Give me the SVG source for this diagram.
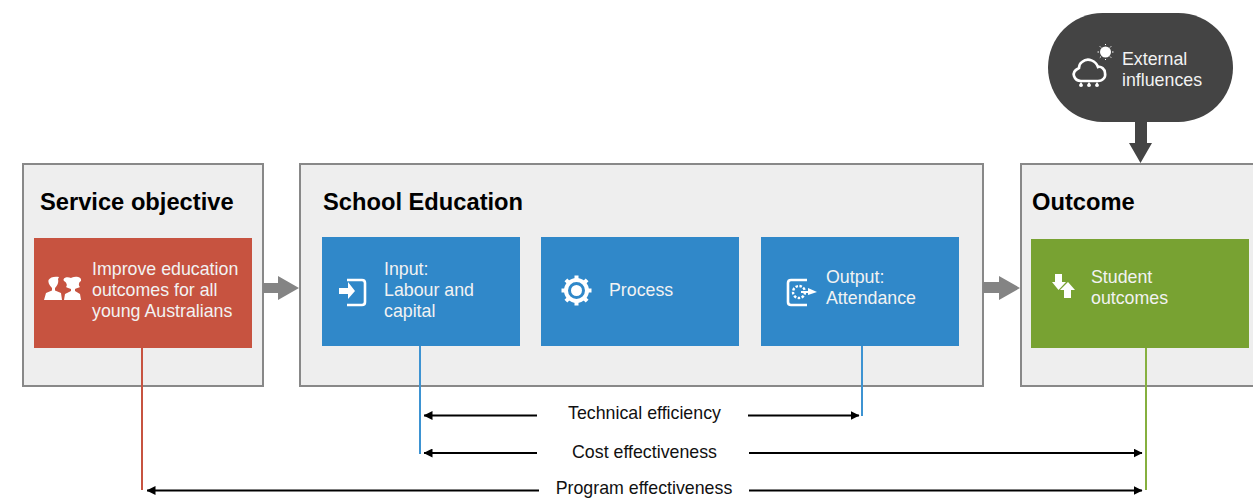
<svg xmlns="http://www.w3.org/2000/svg" width="1253" height="504" viewBox="0 0 1253 504">
<style>
text{font-family:"Liberation Sans",Arial,sans-serif}
.panel{fill:#eeeeee;stroke:#888888;stroke-width:2}
.title{font-size:23.7px;font-weight:700;fill:#000}
.t{font-size:17.8px;fill:#f2f2f2}
.lab{font-size:17.8px;fill:#111;text-anchor:middle}
.dim{stroke:#000;stroke-width:2;fill:none;marker-end:url(#ah)}
.w{fill:#fff}
.wl{fill:none;stroke:#fff;stroke-width:2.600}
</style>
<defs>
<marker id="ah" viewBox="0 0 9 9" refX="8.500" refY="4.500" markerWidth="9" markerHeight="9" markerUnits="userSpaceOnUse" orient="auto"><path d="M0 0L9 4.500L0 9Z" fill="#000"/></marker>
</defs>
<g id="service-objective">
<rect class="panel" x="23" y="164" width="240" height="222"/>
<text class="title" x="40" y="210">Service objective</text>
<rect x="34" y="238" width="218" height="110" fill="#c75340"/>
<path class="w" d="M44 300L46 293L52 290.500V288C49 285 48 282 48.500 280C50 277 55 276 59 277L58 279C59 283 57 286 55 288V290.500L61 293L62 300Z"/>
<path class="w" d="M64 300L65 294L71 291V289C69 288 67 288 66 287C68 285 66 282 64 281C62 278 67 276 71 278L72 277.500C76 276 82 277 81 281C79 282 78 285 80 287C79 288 76 288 75 289V291L80 294L81 300Z"/>
<text class="t" x="92" y="275">Improve education</text>
<text class="t" x="92" y="296">outcomes for all</text>
<text class="t" x="92" y="317">young Australians</text>
</g>
<g id="school-education">
<rect class="panel" x="300" y="164" width="683" height="222"/>
<text class="title" x="323" y="210">School Education</text>
</g>
<g id="input">
<rect x="322" y="237" width="198" height="109" fill="#3088c9"/>
<path class="wl" d="M347 280H362Q365 280 365 283V302Q365 305 362 305H347"/>
<path class="w" d="M339 288H348V282L355 291L348 299V294H339Z"/>
<text class="t" x="384" y="275">Input:</text>
<text class="t" x="384" y="296">Labour and</text>
<text class="t" x="384" y="317">capital</text>
</g>
<g id="process">
<rect x="541" y="237" width="198" height="109" fill="#3088c9"/>
<circle cx="576.500" cy="290.500" r="10.500" fill="none" stroke="#fff" stroke-width="4"/>
<circle cx="576.500" cy="290.500" r="5.500" class="w"/>
<path fill="none" stroke="#fff" stroke-width="4" d="M576.500 275.500V279M576.500 302V305.500M561.500 290.500H565M588 290.500H591.500M565.900 279.900L568.400 282.400M584.600 298.600L587.100 301.100M565.900 301.100L568.400 298.600M584.600 282.400L587.100 279.900"/>
<text class="t" x="609" y="296">Process</text>
</g>
<g id="output">
<rect x="761" y="237" width="198" height="109" fill="#3088c9"/>
<path class="wl" d="M807 280H791Q788 280 788 283V302Q788 305 791 305H807"/>
<circle cx="799" cy="292" r="6" fill="none" stroke="#fff" stroke-width="2.400" stroke-dasharray="2.500 1.500"/>
<path class="w" d="M801 291H808V288L817 292L808 295V293H801Z"/>
<text class="t" x="826" y="283">Output:</text>
<text class="t" x="826" y="304">Attendance</text>
</g>
<g id="outcome">
<rect class="panel" x="1021" y="164" width="240" height="222"/>
<text class="title" x="1032" y="210">Outcome</text>
<rect x="1031" y="239" width="218" height="109" fill="#78a232"/>
<path class="w" d="M1055 274H1062V282H1066L1058.500 290L1052 282H1055Z"/>
<path class="w" d="M1064 298V290H1060L1068 282L1075 290H1071V298Z"/>
<text class="t" x="1091" y="283">Student</text>
<text class="t" x="1091" y="304">outcomes</text>
</g>
<g id="external-influences">
<rect x="1048" y="13" width="185" height="109" rx="54.500" fill="#444444"/>
<path class="wl" d="M1081 81H1098C1103 81 1106 77 1105 73C1105 69 1101 66 1098 67C1096 61 1088 57 1082 62C1079 64 1079 66 1079 68C1075 70 1073 73 1074 76C1075 79 1078 81 1081 81Z"/>
<path class="w" d="M1081 82L1083 85A2 2 0 1 1 1079 85ZM1089 82L1091 85A2 2 0 1 1 1087 85ZM1097 82L1099 85A2 2 0 1 1 1095 85Z"/>
<circle cx="1105.500" cy="52" r="5.500" class="w"/>
<path fill="none" stroke="#fff" stroke-width="1" d="M1105.500 44V45M1105.500 59V60M1097.500 52H1099M1112 52H1113.500M1099.800 46.300L1101 47.500M1110 56.500L1111.200 57.700M1099.800 57.700L1101 56.500M1110 47.500L1111.200 46.300"/>
<text class="t" x="1122" y="65">External</text>
<text class="t" x="1122" y="86">influences</text>
</g>
<g id="connectors">
<path d="M263 283H278V276L299 288L278 300V293H263Z" fill="#848484"/>
<path d="M983 282H999V276L1020 288L999 300V293H983Z" fill="#848484"/>
<path d="M1135 122H1147V143H1152L1140.500 163L1129 143H1135Z" fill="#444444"/>
<path d="M142 348V490" stroke="#c75340" stroke-width="2" fill="none"/>
<path d="M420 346V454" stroke="#3d93d2" stroke-width="2" fill="none"/>
<path d="M862 346V416" stroke="#3d93d2" stroke-width="2" fill="none"/>
<path d="M1146 348V490" stroke="#86b03f" stroke-width="2" fill="none"/>
<path class="dim" d="M537 415.500H424"/>
<path class="dim" d="M748 415.500H859"/>
<path class="dim" d="M537 453H424"/>
<path class="dim" d="M749 453H1142"/>
<path class="dim" d="M539 490.500H147"/>
<path class="dim" d="M749 490.500H1142"/>
</g>
<text class="lab" x="644.500" y="419">Technical efficiency</text>
<text class="lab" x="644.500" y="458">Cost effectiveness</text>
<text class="lab" x="644" y="494">Program effectiveness</text>
</svg>
